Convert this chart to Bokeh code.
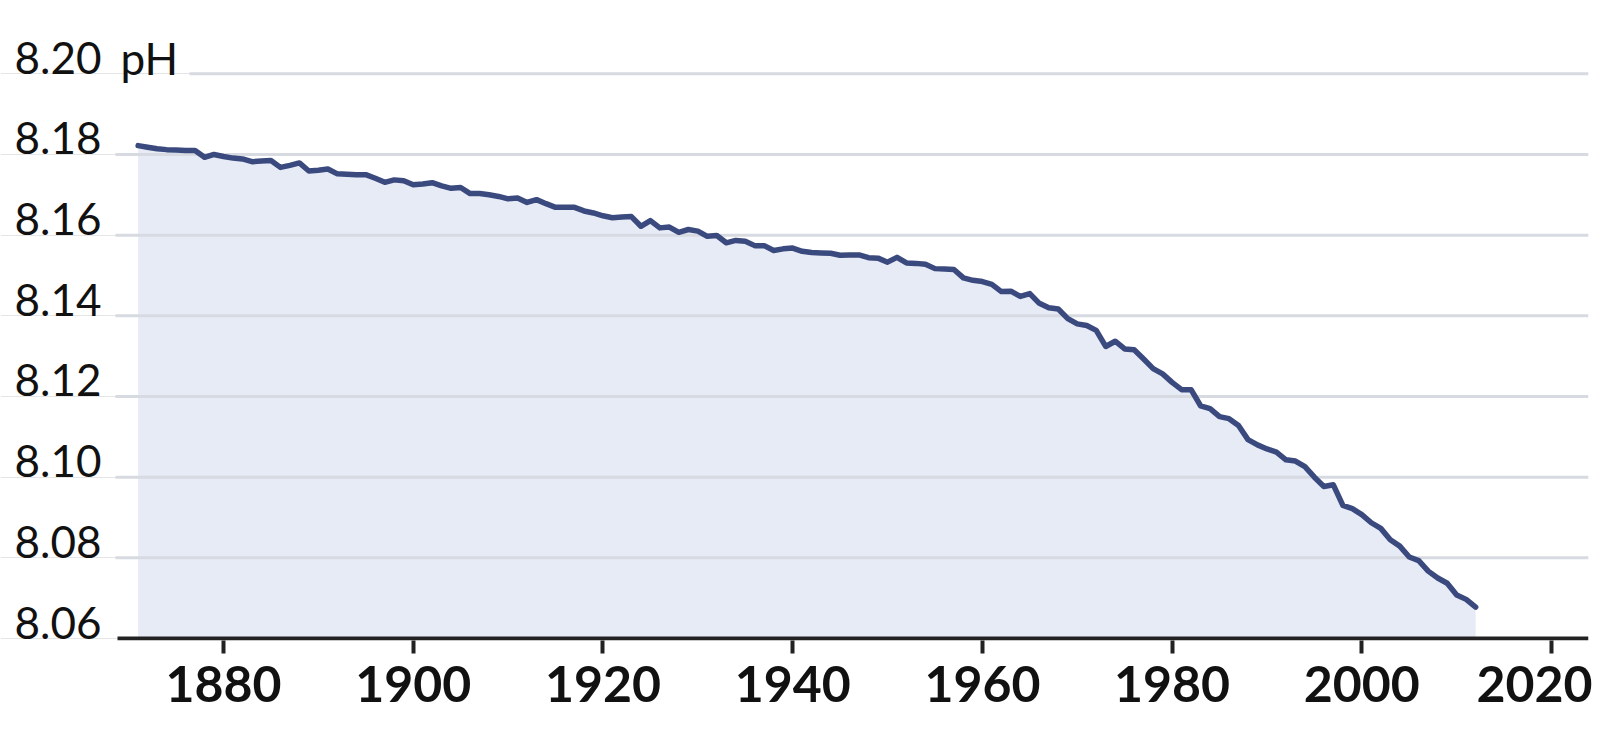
from bokeh.plotting import figure
from bokeh.models import ColumnDataSource, FixedTicker, Range1d
from bokeh.core.properties import value
from bokeh.embed import file_html
from bokeh.resources import INLINE

# ---- data ----
years = list(range(1871, 2013))
ph = [
    8.1822, 8.1818, 8.1814, 8.1812, 8.1811, 8.1810, 8.1810, 8.1793, 8.1800, 8.1795,  # 1871-1880
    8.1791, 8.1789, 8.1782, 8.1784, 8.1785, 8.1768, 8.1773, 8.1779, 8.1759, 8.1761,  # 1881-1890
    8.1764, 8.1752, 8.1751, 8.1750, 8.1750, 8.1741, 8.1731, 8.1737, 8.1735, 8.1725,  # 1891-1900
    8.1727, 8.1730, 8.1722, 8.1716, 8.1718, 8.1703, 8.1703, 8.1700, 8.1696, 8.1690,  # 1901-1910
    8.1692, 8.1681, 8.1688, 8.1678, 8.1669, 8.1669, 8.1669, 8.1660, 8.1655, 8.1648,  # 1911-1920
    8.1643, 8.1645, 8.1646, 8.1622, 8.1636, 8.1618, 8.1620, 8.1607, 8.1614, 8.1610,  # 1921-1930
    8.1597, 8.1599, 8.1581, 8.1587, 8.1585, 8.1574, 8.1574, 8.1562, 8.1566, 8.1568,  # 1931-1940
    8.1560, 8.1557, 8.1556, 8.1555, 8.1550, 8.1551, 8.1551, 8.1544, 8.1543, 8.1533,  # 1941-1950
    8.1545, 8.1531, 8.1530, 8.1528, 8.1517, 8.1516, 8.1515, 8.1494, 8.1488, 8.1485,  # 1951-1960
    8.1478, 8.1460, 8.1461, 8.1448, 8.1455, 8.1431, 8.1420, 8.1417, 8.1393, 8.1380,  # 1961-1970
    8.1376, 8.1364, 8.1324, 8.1337, 8.1318, 8.1316, 8.1293, 8.1269, 8.1256, 8.1235,  # 1971-1980
    8.1217, 8.1217, 8.1177, 8.1170, 8.1150, 8.1145, 8.1128, 8.1093, 8.1080, 8.1070,  # 1981-1990
    8.1062, 8.1043, 8.1040, 8.1026, 8.1000, 8.0977, 8.0981, 8.0930, 8.0922, 8.0907,  # 1991-2000
    8.0887, 8.0873, 8.0845, 8.0829, 8.0802, 8.0793, 8.0767, 8.0750, 8.0737, 8.0708,  # 2001-2010
    8.0697, 8.0678,                                                                  # 2011-2012
]
y_ticks = [8.06, 8.08, 8.10, 8.12, 8.14, 8.16, 8.18, 8.20]
y_tick_labels = ["8.06", "8.08", "8.10", "8.12", "8.14", "8.16", "8.18", "8.20"]
unit_label = "pH"
x_ticks = [1880, 1900, 1920, 1940, 1960, 1980, 2000, 2020]
x_tick_labels = ["1880", "1900", "1920", "1940", "1960", "1980", "2000", "2020"]

# ---- layout constants ----
PX_PER_YEAR = 9.486
PX_PER_UNIT = 4033.6
def year_at(page_x):
    return 1880 + (page_x - 223) / PX_PER_YEAR

FRAME_W, FRAME_H = 1588, 640
X_START, X_END = year_at(0), year_at(FRAME_W)
Y_END = 8.20 + 73.3 / PX_PER_UNIT
Y_START = Y_END - FRAME_H / PX_PER_UNIT

FONT = "Lato"
LINE_COLOR = "#3b4a7e"
FILL_COLOR = "#e7ebf6"
GRID_COLOR = "#d7dae1"
INK = "#111111"

p = figure(
    frame_width=FRAME_W, frame_height=FRAME_H,
    x_range=Range1d(X_START, X_END), y_range=Range1d(Y_START, Y_END),
    output_backend="svg", toolbar_location=None, y_axis_location=None,
    min_border_left=0, min_border_right=4, min_border_top=0, min_border_bottom=88,
    background_fill_color="white", border_fill_color="white", outline_line_color=None,
)
p.xgrid.visible = False

src = ColumnDataSource(dict(year=years, ph=ph))

# area under the curve
p.varea(x="year", y1=y_ticks[0], y2="ph", source=src, fill_color=FILL_COLOR)

# gridlines (drawn on top of the area)
grid_y = y_ticks[1:]
grid_x0 = [year_at(115) if t < y_ticks[-1] else year_at(189) for t in grid_y]
p.segment(x0=grid_x0, y0=grid_y, x1=[X_END] * len(grid_y), y1=grid_y,
          line_color=GRID_COLOR, line_width=3)

# the pH line
p.line(x="year", y="ph", source=src, line_color=LINE_COLOR, line_width=5.5,
       line_join="round", line_cap="round")

# baseline (x-axis line)
p.segment(x0=[year_at(117)], y0=[y_ticks[0]], x1=[X_END], y1=[y_ticks[0]],
          line_color="#222222", line_width=4)

# y tick labels (sit on their gridlines)
lab_src = ColumnDataSource(dict(x=[year_at(101)] * len(y_ticks), y=y_ticks, t=y_tick_labels))
p.text(x="x", y="y", text="t", source=lab_src, text_align="right",
       text_baseline="alphabetic", y_offset=-16, text_font=value(FONT),
       text_font_size=value("44px"), text_color=INK)
p.text(x=[year_at(120)], y=[y_ticks[-1]], text=[unit_label], text_align="left",
       text_baseline="alphabetic", y_offset=-16, text_font=value(FONT),
       text_font_size=value("44px"), text_color=INK)

# x axis
ax = p.xaxis[0]
ax.ticker = FixedTicker(ticks=x_ticks)
ax.major_label_overrides = {t: s for t, s in zip(x_ticks, x_tick_labels)}
ax.axis_line_color = None
ax.major_tick_line_color = "#222222"
ax.major_tick_line_width = 4
ax.major_tick_in = 0
ax.major_tick_out = 13
ax.minor_tick_line_color = None
ax.major_label_text_font = FONT
ax.major_label_text_font_style = "bold"
ax.major_label_text_font_size = "50px"
ax.major_label_text_color = INK
ax.major_label_standoff = 12

open("out.html", "w").write(file_html(p, INLINE, title="Ocean pH"))
